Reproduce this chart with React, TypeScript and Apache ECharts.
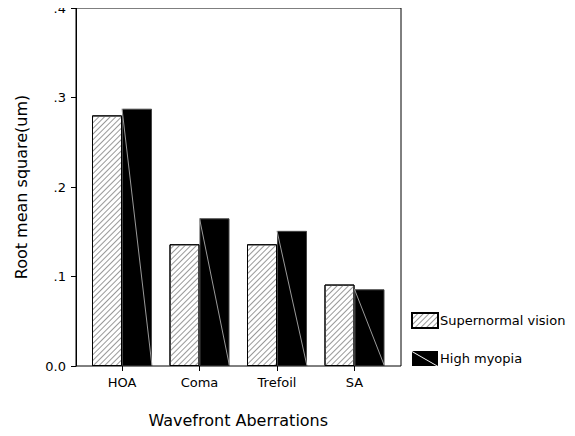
import React, { useEffect, useRef } from "react";
import * as echarts from "echarts";

const categories = ["HOA", "Coma", "Trefoil", "SA"];
const supernormal = [0.28, 0.136, 0.136, 0.091];
const highMyopia = [0.2875, 0.165, 0.151, 0.0857];
const yTicks = [0, 0.1, 0.2, 0.3, 0.4];
const yTickLabels = ["0.0", ".1", ".2", ".3", ".4"];

const FONT = "DejaVu Sans";

export default function App() {
  const ref = useRef<HTMLDivElement>(null);
  useEffect(() => {
    if (!ref.current) return;
    const chart = echarts.init(ref.current, undefined, { renderer: "svg" });
    const BW = 30;
    chart.setOption({
      animation: false,
      backgroundColor: "#fff",
      textStyle: { fontFamily: FONT, color: "#000" },
      grid: { left: 83.25, right: 181.75, top: 8, bottom: 70 },
      legend: {
        data: [
          { name: "Supernormal vision", icon: "rect" },
          {
            name: "High myopia",
            icon: "path://M0,0L26,0L26,15Z M0,0.9L0,15L24.4,15Z",
            itemStyle: { borderWidth: 0 },
          },
        ],
        orient: "vertical",
        left: 406,
        top: 307,
        itemWidth: 26,
        itemHeight: 15,
        itemGap: 22,
        textStyle: { fontFamily: FONT, fontSize: 13, color: "#000", padding: [0, 0, 0, -3] },
        selectedMode: false,
      },
      xAxis: {
        type: "category",
        data: categories,
        axisLine: { show: false },
        axisTick: { show: true, alignWithLabel: true, length: 5, lineStyle: { color: "#000" } },
        axisLabel: { color: "#000", fontSize: 13, fontFamily: FONT, margin: 10 },
        name: "Wavefront Aberrations",
        nameLocation: "middle",
        nameGap: 46,
        nameTextStyle: { fontSize: 16, fontFamily: FONT, color: "#000" },
      },
      yAxis: {
        type: "value",
        min: 0,
        max: 0.4,
        interval: 0.1,
        offset: 7.25,
        splitLine: { show: false },
        axisLine: { show: true, lineStyle: { color: "#000" } },
        axisTick: { show: true, length: 5, lineStyle: { color: "#000" } },
        axisLabel: {
          color: "#000",
          fontSize: 13,
          fontFamily: FONT,
          margin: 10,
          formatter: (v: number) => {
            const i = yTicks.findIndex((t) => Math.abs(t - v) < 1e-9);
            return i >= 0 ? yTickLabels[i] : "";
          },
        },
        name: "Root mean square(um)",
        nameLocation: "middle",
        nameGap: 47,
        nameTextStyle: { fontSize: 16, fontFamily: FONT, color: "#000" },
      },
      graphic: [
        {
          type: "rect",
          shape: { x: 76, y: 8, width: 325, height: 358 },
          style: { fill: "none", stroke: "#000", lineWidth: 1 },
          z: 100,
          silent: true,
        },
      ],
      series: [
        {
          name: "Supernormal vision",
          type: "bar",
          data: supernormal,
          barWidth: BW,
          barGap: "0%",
          itemStyle: {
            color: "#fff",
            borderColor: "#000",
            borderWidth: 1,
            decal: {
              symbol: "rect",
              symbolSize: 1,
              dashArrayX: [1, 0],
              dashArrayY: [1, 3],
              rotation: -Math.PI / 4,
              color: "#999",
            },
          },
        },
        {
          name: "High myopia",
          type: "bar",
          data: highMyopia,
          barWidth: BW,
          barGap: "0%",
          itemStyle: { color: "#000", borderColor: "#444", borderWidth: 1 },
        },
        {
          name: "diag",
          type: "custom",
          z: 10,
          silent: true,
          data: highMyopia.map((v, i) => [i, v]),
          renderItem: (params: any, api: any) => {
            const top = api.coord([api.value(0), api.value(1)]);
            const base = api.coord([api.value(0), 0]);
            return {
              type: "line",
              shape: { x1: top[0], y1: top[1], x2: top[0] + BW, y2: base[1] },
              style: { stroke: "#999", lineWidth: 1 },
            };
          },
        },
      ],
    });
    return () => chart.dispose();
  }, []);
  return <div ref={ref} style={{ width: 575, height: 436, margin: -8 }} />;
}
